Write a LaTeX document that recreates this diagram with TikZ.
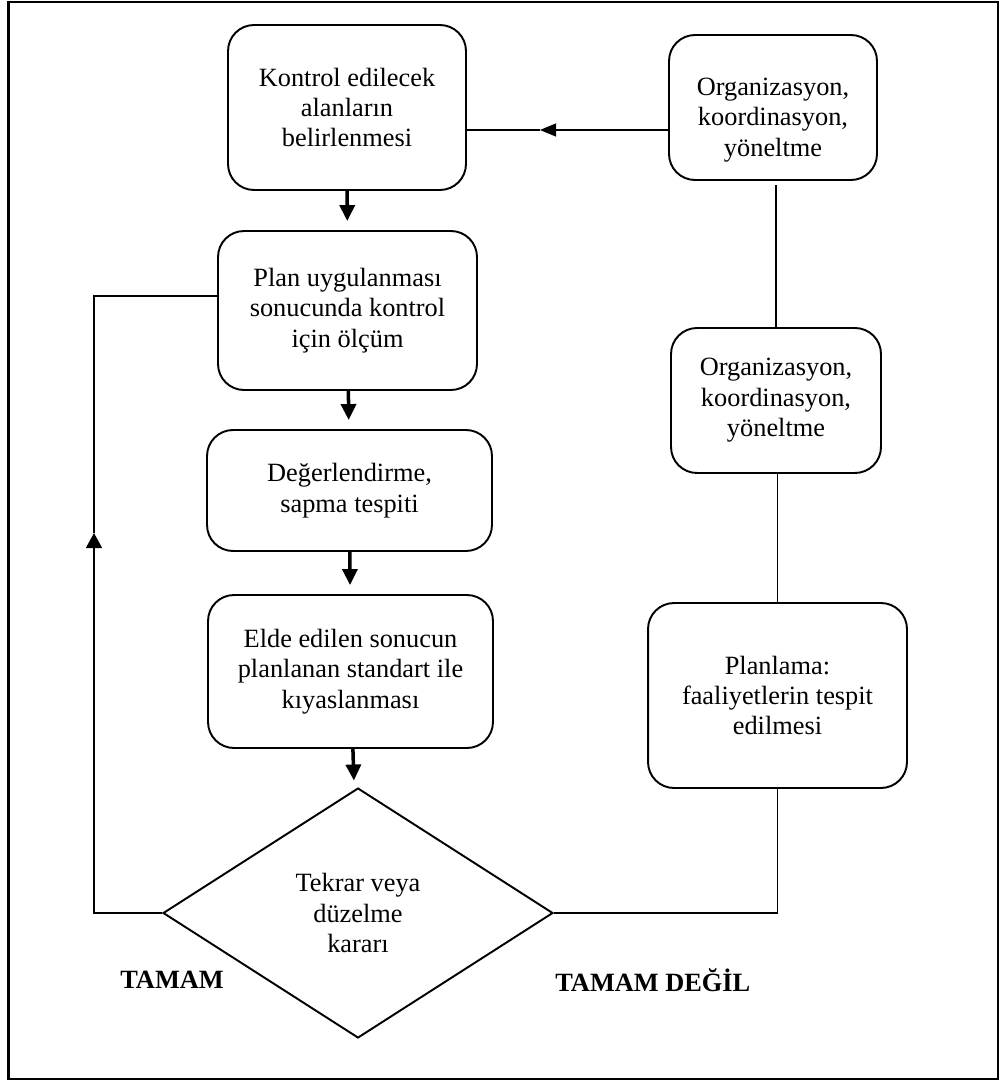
\documentclass[tikz,border=0pt]{standalone}
\usepackage{fontspec}
\setmainfont{Liberation Serif}
\usetikzlibrary{arrows.meta, shapes.geometric}

\begin{document}
\begin{tikzpicture}[x=0.02cm, y=-0.02cm,
    box/.style={draw, line width=1.1pt, rounded corners=0.52cm, align=center, inner sep=0pt, font=\fontsize{15}{17.3}\selectfont},
    decision/.style={draw, diamond, line width=1.1pt, align=center, inner sep=0pt, minimum width=7.8cm, minimum height=5cm, font=\fontsize{15}{17.3}\selectfont},
    flow/.style={line width=2pt, -{Triangle[width=0.3cm, length=0.32cm]}, shorten >=0.18cm},
    link/.style={line width=0.6pt},
    result/.style={inner sep=0pt, font=\fontsize{15}{17.3}\selectfont\bfseries}]

    % Page frame
    \useasboundingbox (0,0) rectangle (1001,1081);
    \draw[line width=1.4pt] (8.5,2) rectangle (998,1079);

    % Left column
    \node[box, minimum width=4.76cm, minimum height=3.3cm] (ctl) at (347,107.5) {Kontrol edilecek\\alanların\\belirlenmesi};
    \node[box, minimum width=5.18cm, minimum height=3.18cm] (olc) at (347.5,310.5) {Plan uygulanması\\sonucunda kontrol\\için ölçüm};
    \node[box, minimum width=5.7cm, minimum height=2.42cm] (deg) at (349.5,490.5) {Değerlendirme,\\sapma tespiti};
    \node[box, minimum width=5.7cm, minimum height=3.06cm] (kiy) at (350.5,671.5) {Elde edilen sonucun\\planlanan standart ile\\kıyaslanması};
    \node[decision] (dec) at (358,913) {Tekrar veya\\düzelme\\kararı};

    % Right column
    \node[box, minimum width=4.16cm, minimum height=2.9cm] (org1) at (773,107.5) {\rule{0pt}{0.84cm}Organizasyon,\\koordinasyon,\\yöneltme};
    \node[box, minimum width=4.2cm, minimum height=2.9cm] (org2) at (776,400.5) {Organizasyon,\\koordinasyon,\\yöneltme};
    \node[box, minimum width=5.18cm, minimum height=3.7cm] (plan) at (777.5,695.5) {Planlama:\\faaliyetlerin tespit\\edilmesi};

    % Outcome labels
    \node[result, anchor=west] (ok) at (120,980) {TAMAM};
    \node[result, anchor=west] (notok) at (555,980) {TAMAM DEĞİL};

    % Main flow
    \draw[flow] (ctl) -- (olc);
    \draw[flow] (olc) -- (deg);
    \draw[flow] (deg) -- (kiy);
    \draw[flow] (kiy) -- (dec);

    % Top link with arrow half way
    \coordinate (toptip) at (540,130);
    \draw[link, -{Triangle[width=0.26cm, length=0.32cm]}] (org1.west |- toptip) -- (toptip);
    \draw[link] (toptip) -- (ctl.east |- toptip);

    % Feedback on the left (TAMAM)
    \coordinate (fbL) at (94,913);
    \coordinate (uptip) at (94,533);
    \coordinate (fbT) at (94,296);
    \draw[link, -{Triangle[width=0.32cm, length=0.3cm]}] (dec.west) -- (fbL) -- (uptip);
    \draw[link] (uptip) -- (fbT) -- (olc.west |- fbT);

    % Return on the right (TAMAM DEGIL)
    \draw[link] (dec.east) -- (dec.east -| plan.south) -- (plan.south);
    \draw[link] (plan.north) -- (plan.north |- org2.south);
    \draw[link, shorten >=0.08cm] (org2.north) -- (org2.north |- org1.south);
\end{tikzpicture}
\end{document}
